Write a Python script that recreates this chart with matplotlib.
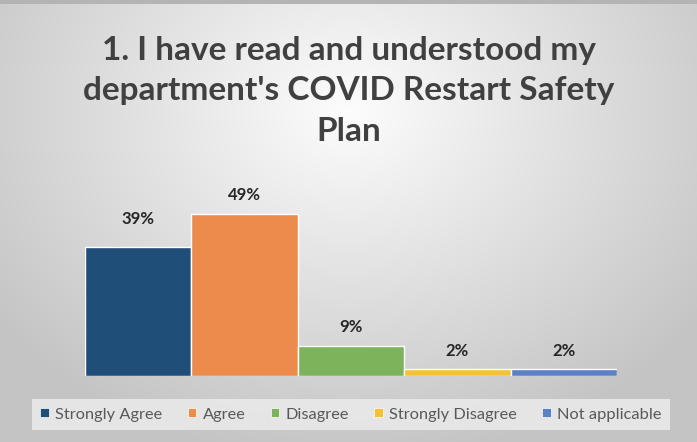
import numpy as np
import matplotlib
matplotlib.use("Agg")
import matplotlib.pyplot as plt
from matplotlib.patches import Patch, Rectangle

categories = ["Strongly Agree", "Agree", "Disagree", "Strongly Disagree", "Not applicable"]
values = [39, 49, 9, 2, 2]
labels = ["39%", "49%", "9%", "2%", "2%"]
colors = ["#1F4E79", "#ED8B4C", "#7DB35B", "#F6C235", "#5B80C6"]
title = "1. I have read and understood my\ndepartment's COVID Restart Safety\nPlan"

plt.rcParams['font.family'] = ['Lato', 'DejaVu Sans']

W, H = 697, 442
fig = plt.figure(figsize=(W / 100, H / 100), dpi=100)

# background radial gradient
bg = fig.add_axes([0, 0, 1, 1], zorder=0)
yy, xx = np.mgrid[0:H, 0:W]
d = np.sqrt(((xx - 348) / 1.0) ** 2 + ((yy - 110) / 0.8) ** 2)
t = np.clip(d / 440, 0, 1)
c0 = np.array([0.99, 0.99, 0.99])
c1 = np.array([0.77, 0.77, 0.77])
img = c0[None, None, :] * (1 - t[..., None]) + c1[None, None, :] * t[..., None]
bg.imshow(img, extent=[0, W, H, 0], aspect='auto')
bg.set_xlim(0, W)
bg.set_ylim(H, 0)
bg.add_patch(Rectangle((0, 0), W, 4, color="#b4b4b4", lw=0))
bg.axis('off')

# bars
ax = fig.add_axes([85 / W, 66 / H, 532 / W, 182 / H], zorder=2)
ax.patch.set_alpha(0)
x = np.arange(len(categories))
bars = ax.bar(x, values, width=1.0, color=colors, edgecolor="white", linewidth=1.0)
ax.set_xlim(-0.5, len(categories) - 0.5)
ax.set_ylim(0, 55)
ax.axis('off')
for i, (b, lab) in enumerate(zip(bars, labels)):
    off = 20 if i == 0 else 13.5
    ax.annotate(lab, (b.get_x() + b.get_width() / 2, b.get_height()),
                xytext=(0, off), textcoords='offset points', ha='center', va='center',
                fontsize=12, fontweight='bold', color="#262626", annotation_clip=False)

fig.text(0.5, 1 - 91 / H, title, ha='center', va='center', fontsize=24,
         fontweight='bold', color="#404040", linespacing=1.47)

handles = [Patch(facecolor=c, edgecolor='white', linewidth=0.5) for c in colors]
leg = fig.legend(handles, categories, loc='center', bbox_to_anchor=(351 / W, 1 - 414.5 / H),
                 ncol=5, frameon=True, fontsize=11.8, handlelength=0.5, handleheight=0.5,
                 handletextpad=0.4, columnspacing=1.55, borderpad=0.5, fancybox=False,
                 labelcolor="#595959")
leg.get_frame().set_facecolor("#ebebeb")
leg.get_frame().set_alpha(0.85)
leg.get_frame().set_edgecolor("none")

fig.savefig("out.png", dpi=100)
